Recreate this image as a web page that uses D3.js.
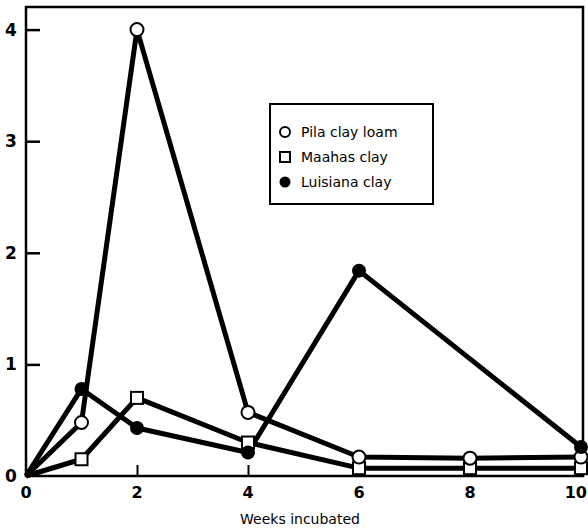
<!DOCTYPE html>
<html>
<head>
<meta charset="utf-8">
<script src="https://cdn.jsdelivr.net/npm/d3@7"></script>
<style>
  body { margin: 0; background: #fff; }
  svg { display: block; }
</style>
</head>
<body>
<svg width="588" height="529"></svg>
<script>
// weeks incubated (x values)
var weeks = [0, 1, 2, 4, 6, 8, 10];
var pilaValues = [0, 0.48, 4.0, 0.57, 0.17, 0.16, 0.17];
var maahasValues = [0, 0.15, 0.70, 0.30, 0.07, 0.07, 0.07];
// Luisiana has no week 8 reading
var luisianaWeeks = [0, 1, 2, 4, 6, 10];
var luisianaValues = [0, 0.78, 0.43, 0.21, 1.84, 0.26];

var xTicks = [0, 2, 4, 6, 8, 10];
var yTicks = [0, 1, 2, 3, 4];
var legendNames = ['Pila clay loam', 'Maahas clay', 'Luisiana clay'];

var svg = d3.select('svg');

// plot frame (window.top is taken, so use a box object)
var box = { left: 26, top: 7, right: 583, bottom: 476 };

var x = d3.scaleLinear().domain([0, 10]).range([box.left, 581]);
var y = d3.scaleLinear().domain([0, 4]).range([box.bottom, box.bottom - 4 * 111.6]);

// frame lines
svg.append('rect')
  .attr('x', box.left).attr('y', box.top)
  .attr('width', box.right - box.left).attr('height', box.bottom - box.top)
  .style('fill', 'none').style('stroke', '#000').style('stroke-width', 2.5);

// y axis, ticks pointing inward
var yAxis = svg.append('g')
  .attr('transform', 'translate(' + box.left + ',0)')
  .call(d3.axisRight(y).tickValues(yTicks.slice(1)).tickSize(14).tickFormat(''));
yAxis.select('.domain').remove();
yAxis.selectAll('line').style('stroke-width', 2.5);

svg.selectAll('.ylab')
  .data(yTicks)
  .enter()
  .append('text')
  .attr('x', 11)
  .attr('y', function (d) { return y(d) + 6; })
  .attr('text-anchor', 'middle')
  .style('font', 'bold 17px "DejaVu Sans", sans-serif')
  .text(function (d) { return d; });

// x axis, ticks pointing up
var xAxis = svg.append('g')
  .attr('transform', 'translate(0,' + box.bottom + ')')
  .call(d3.axisTop(x).tickValues([2, 4, 6, 8]).tickSize(11).tickFormat(''));
xAxis.select('.domain').remove();
xAxis.selectAll('line').style('stroke-width', 2);

svg.selectAll('.xlab')
  .data(xTicks)
  .enter()
  .append('text')
  .attr('x', function (d) { return d == 10 ? 587 : x(d); })
  .attr('y', 498)
  .attr('text-anchor', function (d) { return d == 10 ? 'end' : 'middle'; })
  .style('font', 'bold 16px "DejaVu Sans", sans-serif')
  .text(function (d) { return d; });

svg.append('text')
  .attr('x', 300).attr('y', 524)
  .attr('text-anchor', 'middle')
  .style('font', '14px "DejaVu Sans", sans-serif')
  .text('Weeks incubated');

var line = d3.line()
  .x(function (d) { return x(d[0]); })
  .y(function (d) { return y(d[1]); });

var pila = d3.zip(weeks, pilaValues);
var maahas = d3.zip(weeks, maahasValues);
var luisiana = d3.zip(luisianaWeeks, luisianaValues);

[maahas, pila, luisiana].forEach(function (s) {
  svg.append('path')
    .datum(s)
    .attr('d', line)
    .style('fill', 'none')
    .style('stroke', '#000')
    .style('stroke-width', 5)
    .style('stroke-linejoin', 'round');
});

// markers (skip the origin point)
svg.selectAll('.sq')
  .data(maahas.slice(1))
  .enter()
  .append('rect')
  .attr('x', function (d) { return x(d[0]) - 6; })
  .attr('y', function (d) { return y(d[1]) - 6; })
  .attr('width', 12).attr('height', 12)
  .style('fill', '#fff').style('stroke', '#000').style('stroke-width', 2);

svg.selectAll('.oc')
  .data(pila.slice(1))
  .enter()
  .append('circle')
  .attr('cx', function (d) { return x(d[0]); })
  .attr('cy', function (d) { return y(d[1]); })
  .attr('r', 6.5)
  .style('fill', '#fff').style('stroke', '#000').style('stroke-width', 2);

svg.selectAll('.fc')
  .data(luisiana.slice(1))
  .enter()
  .append('circle')
  .attr('cx', function (d) { return x(d[0]); })
  .attr('cy', function (d) { return y(d[1]); })
  .attr('r', 7)
  .style('fill', '#000');

// legend
var lg = svg.append('g').attr('transform', 'translate(270,104)');
lg.append('rect')
  .attr('width', 163).attr('height', 100)
  .style('fill', '#fff').style('stroke', '#000').style('stroke-width', 2);

lg.append('circle').attr('cx', 15).attr('cy', 28).attr('r', 5)
  .style('fill', '#fff').style('stroke', '#000').style('stroke-width', 2);
lg.append('rect').attr('x', 10).attr('y', 48).attr('width', 10).attr('height', 10)
  .style('fill', '#fff').style('stroke', '#000').style('stroke-width', 2);
lg.append('circle').attr('cx', 15).attr('cy', 78).attr('r', 5.5)
  .style('fill', '#000');

lg.selectAll('.lt')
  .data(legendNames)
  .enter()
  .append('text')
  .attr('x', 31)
  .attr('y', function (d, i) { return 33 + i * 25; })
  .style('font', '14px "DejaVu Sans", sans-serif')
  .text(function (d) { return d; });
</script>
</body>
</html>
